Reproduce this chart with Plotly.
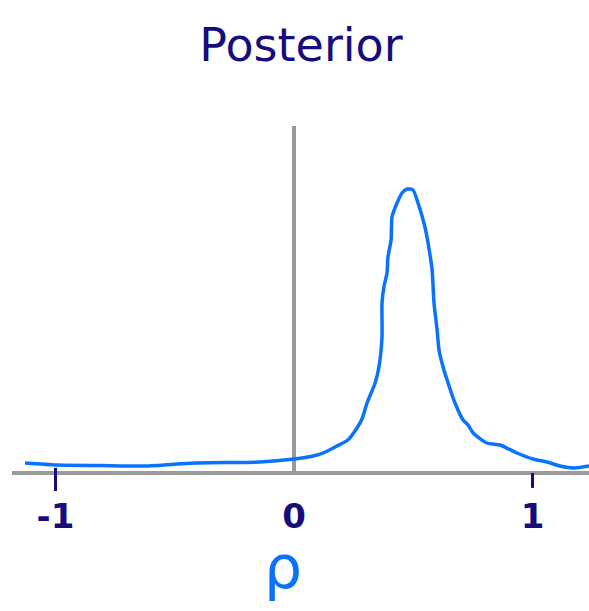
import plotly.graph_objects as go

# Posterior density of the correlation coefficient rho
rho = [-1.128, -0.994, -0.813, -0.625, -0.415, -0.143, 0.0, 0.080, 0.122, 0.180,
       0.226, 0.264, 0.285, 0.306, 0.340, 0.356, 0.369, 0.369, 0.377, 0.390,
       0.394, 0.407, 0.411, 0.432, 0.453, 0.474, 0.499, 0.520, 0.549, 0.562,
       0.579, 0.587, 0.600, 0.608, 0.625, 0.646, 0.675, 0.709, 0.730, 0.751,
       0.809, 0.864, 0.935, 1.002, 1.061, 1.115, 1.178, 1.237]
density = [0.08, 0.06, 0.055, 0.05, 0.08, 0.09, 0.12, 0.15, 0.18, 0.25,
           0.31, 0.43, 0.52, 0.68, 0.88, 1.04, 1.34, 1.68, 1.84, 1.98,
           2.14, 2.31, 2.54, 2.68, 2.78, 2.82, 2.81, 2.68, 2.44, 2.28,
           2.01, 1.68, 1.41, 1.21, 1.04, 0.88, 0.68, 0.51, 0.46, 0.38,
           0.28, 0.26, 0.18, 0.12, 0.09, 0.05, 0.03, 0.05]

tick_vals = [-1, 0, 1]
tick_text = ["-1", "0", "1"]
marked_ticks = [-1, 1]

x_range = [-1.1824, 1.2369]
y_range = [0, 3.45]

NAVY = "#170c7e"
BLUE = "#0b72ff"
GREY = "#9a9a9a"
HAND = "DejaVu Sans"

fig = go.Figure()
fig.add_trace(go.Scatter(
    x=rho, y=density, mode="lines",
    line=dict(color=BLUE, width=3.5, shape="spline", smoothing=0.6),
    hoverinfo="skip", showlegend=False,
))

# short hand-drawn tick strokes under -1 and 1
tick_spans = {-1: (0.009, -0.058), 1: (-0.006, -0.049)}
for t in marked_ticks:
    y0, y1 = tick_spans[t]
    fig.add_shape(type="line", xref="x", yref="paper", x0=t, x1=t, y0=y0, y1=y1,
                  line=dict(color=NAVY, width=3), layer="above")

fig.add_annotation(text="ρ", xref="x", yref="paper", x=-0.045, y=-0.17,
                   yanchor="top", showarrow=False,
                   font=dict(family=HAND, size=60, color=BLUE))

fig.update_layout(
    width=589, height=611,
    margin=dict(l=12, r=0, t=126, b=140),
    paper_bgcolor="white", plot_bgcolor="white",
    title=dict(text="Posterior", x=301 / 589, xanchor="center",
               y=1 - 45 / 611, yanchor="middle", yref="container",
               font=dict(family=HAND, size=46, color=NAVY)),
    xaxis=dict(range=x_range, tickvals=tick_vals, ticktext=tick_text,
               ticks="outside", ticklen=12, tickcolor="rgba(0,0,0,0)",
               tickfont=dict(family=HAND, size=34, color=NAVY, weight="bold"),
               showgrid=False, showline=True, linecolor=GREY, linewidth=4,
               zeroline=True, zerolinecolor=GREY, zerolinewidth=4),
    yaxis=dict(range=y_range, showticklabels=False, ticks="", showgrid=False,
               zeroline=False, showline=False),
)

fig.write_html("out.html")
